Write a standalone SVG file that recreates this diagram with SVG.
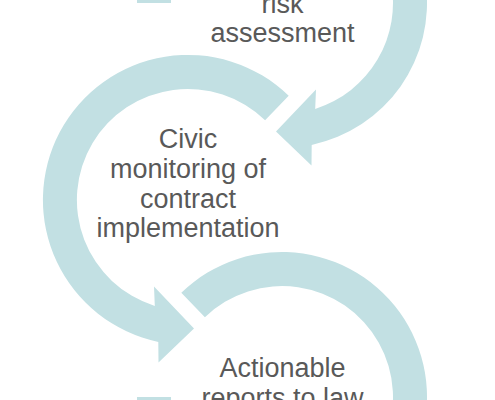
<svg xmlns="http://www.w3.org/2000/svg" width="495" height="400" viewBox="0 0 495 400">
  <style>
    .arc { fill: #c2e0e3; stroke: none; }
    .lbl { font-family: "Liberation Sans", Arial, sans-serif; font-size: 27px; fill: #595959; text-anchor: middle; }
  </style>
  <rect width="495" height="400" fill="#ffffff"/>
  <g id="connectors">
    <path class="arc" d="M 137 3 A 145 145 0 1 1 311.7 144.9 L 311.5 165.5 L 276 131.5 L 316 89.5 L 315.2 108.9 A 111 111 0 1 0 171 3 Z"/>
    <path class="arc" d="M 288.7 95.7 A 145 145 0 1 0 158.3 341.9 L 158.5 362.5 L 194 328.5 L 154 286.5 L 154.8 305.9 A 111 111 0 1 1 265.1 120.2 Z"/>
    <path class="arc" d="M 181.3 292.7 A 145 145 0 1 1 137 397 L 171 397 A 111 111 0 1 0 204.9 317.2 Z"/>
  </g>
  <g id="node-risk-assessment">
    <text class="lbl" x="282.5" y="13.3">risk</text>
    <text class="lbl" x="282.5" y="41.7">assessment</text>
  </g>
  <g id="node-civic-monitoring">
    <text class="lbl" x="188" y="148.3">Civic</text>
    <text class="lbl" x="188" y="178.3">monitoring of</text>
    <text class="lbl" x="188" y="208.3">contract</text>
    <text class="lbl" x="188" y="237.3">implementation</text>
  </g>
  <g id="node-actionable-reports">
    <text class="lbl" x="282.5" y="377.3">Actionable</text>
    <text class="lbl" x="282.5" y="407">reports to law</text>
  </g>
</svg>
